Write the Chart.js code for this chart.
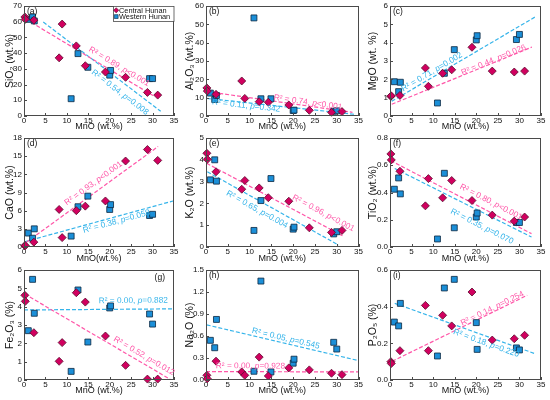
<!DOCTYPE html>
<html>
<head>
<meta charset="utf-8">
<script src="https://cdn.jsdelivr.net/npm/chart.js@4.4.1/dist/chart.umd.min.js"></script>
<style>
html, body { margin: 0; padding: 0; background: #fff; }
#grid { position: relative; width: 550px; height: 400px; overflow: hidden; }
.cell { position: absolute; }
</style>
</head>
<body>
<div id="grid"></div>
<script>
// MnO content (wt.%) of each sample, shared by all nine panels
const mnoCentral = [0.2, 0.3, 2.3, 8.2, 8.9, 12.2, 14.3, 19.0, 23.7, 28.8, 31.2];
const mnoWestern = [1.0, 2.0, 2.4, 11.0, 12.6, 14.9, 20.0, 20.2, 29.3, 30.0];

const sio2Central = [63.0, 61.5, 61.0, 37.0, 58.5, 44.6, 32.0, 28.0, 24.6, 15.0, 13.3];
const sio2Western = [61.5, 63.0, 60.5, 11.0, 39.7, 31.0, 26.0, 29.0, 23.8, 23.8];
const sio2FitCentral = [[0.5, 61.5], [30.3, 12.7]];
const sio2FitWestern = [[4.5, 59.8], [31.9, 3.0]];

const al2o3Central = [15.3, 13.6, 11.8, 19.1, 9.6, 7.8, 7.5, 6.0, 3.1, 2.0, 2.4];
const al2o3Western = [12.5, 9.0, 11.2, 53.5, 9.4, 9.4, 3.0, 3.2, 2.6, 2.8];
const al2o3FitCentral = [[0.3, 13.3], [33.6, 2.0]];
const al2o3FitWestern = [[0.2, 9.6], [34.2, 0.9]];

const mgoCentral = [1.07, 1.1, 1.12, 2.62, 1.62, 2.33, 2.52, 3.75, 2.45, 2.4, 2.45];
const mgoWestern = [1.87, 1.33, 1.84, 0.71, 2.33, 3.62, 4.15, 4.38, 4.17, 4.45];
const mgoFitCentral = [[0.4, 0.64], [32.9, 3.76]];
const mgoFitWestern = [[0.4, 0.8], [33.9, 5.44]];

const caoCentral = [0.2, 0.25, 0.8, 6.2, 1.55, 6.0, 6.75, 7.6, 14.2, 16.1, 14.3];
const caoWestern = [2.3, 1.45, 3.0, 1.8, 6.65, 8.4, 6.2, 7.0, 5.2, 5.4];
const caoFitCentral = [[0.6, 0.8], [31.3, 16.6]];
const caoFitWestern = [[0.3, 0.9], [34.8, 7.6]];

const k2oCentral = [4.3, 4.02, 3.45, 2.65, 3.05, 2.71, 2.26, 2.1, 0.88, 0.67, 0.76];
const k2oWestern = [3.08, 4.0, 3.02, 0.76, 2.13, 3.14, 0.82, 0.91, 0.6, 0.7];
const k2oFitCentral = [[0.15, 3.84], [31.3, 0.52]];
const k2oFitWestern = [[0.3, 3.45], [30.4, 0.09]];

const tio2Central = [0.683, 0.639, 0.556, 0.302, 0.502, 0.361, 0.488, 0.341, 0.234, 0.19, 0.22];
const tio2Western = [0.424, 0.507, 0.39, 0.059, 0.541, 0.141, 0.22, 0.249, 0.18, 0.18];
const tio2FitCentral = [[0.15, 0.634], [32.8, 0.098]];
const tio2FitWestern = [[1.1, 0.576], [32.8, 0.073]];

const fe2o3Central = [4.62, 4.29, 2.58, 1.02, 2.04, 4.76, 4.25, 2.4, 0.8, 0.05, 0.05];
const fe2o3Western = [2.69, 5.49, 3.64, 0.47, 4.91, 2.07, 3.93, 4.04, 3.6, 3.05];
const fe2o3FitCentral = [[0.15, 4.69], [34.1, 0.04]];
const fe2o3FitWestern = [[0, 3.82], [35, 3.88]];

const na2oCentral = [0.064, 0.018, 0.257, 0.11, 0.064, 0.312, 0.055, 0.165, 0.138, 0.092, 0.073];
const na2oWestern = [0.541, 0.44, 0.826, 0.119, 1.349, 0.11, 0.229, 0.284, 0.514, 0.422];
const na2oFitCentral = [[0, 0.115], [35, 0.11]];
const na2oFitWestern = [[0.15, 0.752], [34.9, 0.266]];

const p2o5Central = [0.1, 0.09, 0.16, 0.407, 0.16, 0.353, 0.295, 0.48, 0.218, 0.225, 0.244];
const p2o5Western = [0.316, 0.295, 0.418, 0.131, 0.502, 0.549, 0.313, 0.167, 0.175, 0.164];
const p2o5FitCentral = [[0.5, 0.102], [31.8, 0.462]];
const p2o5FitWestern = [[1.1, 0.418], [33.8, 0.142]];

const colors = {
    central: '#d1005f',
    centralEdge: '#5c0a2e',
    western: '#1b8fd8',
    westernEdge: '#0b2740',
    centralFit: '#ff56a8',
    westernFit: '#35b4ea',
    frame: '#4a4a4a',
    text: '#111'
};

const FONT = "'Liberation Sans', Arial, sans-serif";

// grid geometry: each cell is one chart
const columns = [
    { left: 0, width: 182, axisW: 24, padR: 8, titlePad: 4.5 },
    { left: 182, width: 182, axisW: 24, padR: 5, titlePad: 2.5 },
    { left: 364, width: 186, axisW: 26, padR: 9, titlePad: 3.5 }
];
const rows = [
    { top: 0, height: 132, padT: 6, axisH: 16 },
    { top: 132, height: 132, padT: 6, axisH: 17 },
    { top: 264, height: 132, padT: 6, axisH: 16 }
];

const panels = [
    { tag: '(a)', yTitle: 'SiO₂ (wt.%)', yMax: 70, yStep: 10, digits: 0,
      c: sio2Central, w: sio2Western, fitC: sio2FitCentral, fitW: sio2FitWestern,
      statC: ['0.89', '<0.001'], statW: ['0.54', '=0.008'], labC: [22.2, 31.4], labW: [22.4, 15.0], legend: true },
    { tag: '(b)', yTitle: 'Al₂O₃ (wt.%)', yMax: 60, yStep: 10, digits: 0,
      c: al2o3Central, w: al2o3Western, fitC: al2o3FitCentral, fitW: al2o3FitWestern,
      statC: ['0.74', '<0.001'], statW: ['0.11', '=0.342'], labC: [23.4, 7.4], labW: [9.2, 5.6] },
    { tag: '(c)', yTitle: 'MgO (wt. %)', yMax: 6, yStep: 1, digits: 0,
      c: mgoCentral, w: mgoWestern, fitC: mgoFitCentral, fitW: mgoFitWestern,
      statC: ['0.44', '=0.026'], statW: ['0.71', '=0.002'], labC: [24.0, 3.05], labW: [9.7, 2.4] },
    { tag: '(d)', yTitle: 'CaO (wt.%)', xTitle: 'MnO(wt.%)', yMax: 18, yStep: 3, digits: 0,
      c: caoCentral, w: caoWestern, fitC: caoFitCentral, fitW: caoFitWestern,
      statC: ['0.93', '<0.001'], statW: ['0.38', '=0.058'], labC: [16.2, 10.5], labW: [21.6, 4.2] },
    { tag: '(e)', yTitle: 'K₂O (wt.%)', yMax: 5, yStep: 1, digits: 0,
      c: k2oCentral, w: k2oWestern, fitC: k2oFitCentral, fitW: k2oFitWestern,
      statC: ['0.96', '<0.001'], statW: ['0.65', '=0.004'], labC: [26.9, 1.55], labW: [11.7, 1.72] },
    { tag: '(f)', yTitle: 'TiO₂ (wt.%)', yMax: 0.8, yStep: 0.2, digits: 1,
      c: tio2Central, w: tio2Western, fitC: tio2FitCentral, fitW: tio2FitWestern,
      statC: ['0.80', '<0.001'], statW: ['0.35', '=0.070'], labC: [23.4, 0.33], labW: [21.3, 0.15] },
    { tag: '(g)', tagRight: true, yTitle: 'Fe₂O₃ (%)', yMax: 6, yStep: 1, digits: 0,
      c: fe2o3Central, w: fe2o3Western, fitC: fe2o3FitCentral, fitW: fe2o3FitWestern,
      statC: ['0.52', '=0.012'], statW: ['0.00', '=0.882'], labC: [28.0, 1.31], labW: [25.5, 4.33] },
    { tag: '(h)', yTitle: 'Na₂O (%)', yMax: 1.5, yStep: 0.3, digits: 1,
      c: na2oCentral, w: na2oWestern, fitC: na2oFitCentral, fitW: na2oFitWestern,
      statC: ['0.00', '=0.928'], statW: ['0.05', '=0.545'], labC: [10.2, 0.19], labW: [18.3, 0.565] },
    { tag: '(i)', yTitle: 'P₂O₅ (%)', yMax: 0.6, yStep: 0.2, digits: 1,
      c: p2o5Central, w: p2o5Western, fitC: p2o5FitCentral, fitW: p2o5FitWestern,
      statC: ['0.14', '=0.254'], statW: ['0.18', '=0.220'], labC: [23.7, 0.39], labW: [22.3, 0.2] }
];

function drawStat(chart, fit, at, stat, color) {
    const { ctx, scales: { x, y } } = chart;
    const x0 = x.getPixelForValue(fit[0][0]), y0 = y.getPixelForValue(fit[0][1]);
    const x1 = x.getPixelForValue(fit[1][0]), y1 = y.getPixelForValue(fit[1][1]);
    const angle = Math.atan2(y1 - y0, x1 - x0);
    const parts = [['R² = ' + stat[0] + ', ', ''], ['p', 'italic '], [stat[1], '']];
    ctx.save();
    ctx.translate(x.getPixelForValue(at[0]), y.getPixelForValue(at[1]));
    ctx.rotate(angle);
    ctx.fillStyle = color;
    ctx.textBaseline = 'middle';
    ctx.textAlign = 'left';
    const widths = parts.map(p => {
        ctx.font = p[1] + '8.3px ' + FONT;
        return ctx.measureText(p[0]).width;
    });
    let cx = -widths.reduce((s, v) => s + v, 0) / 2;
    parts.forEach((p, i) => {
        ctx.font = p[1] + '8.3px ' + FONT;
        ctx.fillText(p[0], cx, 0);
        cx += widths[i];
    });
    ctx.restore();
}

function drawLegend(chart) {
    const { ctx, chartArea: a } = chart;
    const w = 61, h = 15, left = a.right - w, top = a.top;
    ctx.save();
    ctx.fillStyle = '#fff';
    ctx.fillRect(left, top, w, h);
    ctx.strokeStyle = colors.frame;
    ctx.lineWidth = 0.8;
    ctx.strokeRect(left + 0.5, top + 0.5, w - 0.5, h);
    chart.data.datasets.slice(0, 2).forEach((ds, i) => {
        const cy = top + 4.3 + i * 6.3;
        ctx.fillStyle = ds.backgroundColor;
        ctx.strokeStyle = ds.borderColor;
        ctx.lineWidth = 0.6;
        Chart.helpers.drawPoint(ctx, { pointStyle: ds.pointStyle, radius: ds.pointRadius * 0.65, borderWidth: 0.6, rotation: 0 }, left + 3.2, cy);
        ctx.fillStyle = colors.text;
        ctx.font = '7.4px ' + FONT;
        ctx.textBaseline = 'middle';
        ctx.fillText(ds.label, left + 6, cy + 0.3);
    });
    ctx.restore();
}

const decor = {
    id: 'decor',
    afterDraw(chart, args, o) {
        const { ctx, chartArea: a, scales: { x, y } } = chart;
        ctx.save();
        ctx.strokeStyle = colors.frame;
        ctx.lineWidth = 1;
        ctx.strokeRect(Math.round(a.left) + 0.5, Math.round(a.top) + 0.5, Math.round(a.width) - 1, Math.round(a.height) - 1);
        // inward tick marks
        ctx.beginPath();
        x.ticks.forEach(t => {
            const px = Math.round(x.getPixelForValue(t.value)) + 0.5;
            ctx.moveTo(px, a.bottom);
            ctx.lineTo(px, a.bottom - 3);
        });
        y.ticks.forEach(t => {
            const py = Math.round(y.getPixelForValue(t.value)) + 0.5;
            ctx.moveTo(a.left, py);
            ctx.lineTo(a.left + 3, py);
        });
        ctx.stroke();
        ctx.fillStyle = colors.text;
        ctx.font = '8.5px ' + FONT;
        ctx.textBaseline = 'top';
        if (o.tagRight) {
            ctx.textAlign = 'right';
            ctx.fillText(o.tag, a.right - 9, a.top + 3);
        } else {
            ctx.textAlign = 'left';
            ctx.fillText(o.tag, a.left + 3, a.top + 1);
        }
        ctx.restore();
        drawStat(chart, o.fitC, o.labC, o.statC, colors.centralFit);
        drawStat(chart, o.fitW, o.labW, o.statW, colors.westernFit);
        if (o.legend) drawLegend(chart);
    }
};

const grid = document.getElementById('grid');
const toPoints = (xs, ys) => xs.map((v, k) => ({ x: v, y: ys[k] }));
const toLine = pairs => pairs.map(([px, py]) => ({ x: px, y: py }));

panels.forEach((p, i) => {
    const col = columns[i % 3];
    const row = rows[Math.floor(i / 3)];
    const cell = document.createElement('div');
    cell.className = 'cell';
    cell.style.left = col.left + 'px';
    cell.style.top = row.top + 'px';
    cell.style.width = col.width + 'px';
    cell.style.height = row.height + 'px';
    const canvas = document.createElement('canvas');
    cell.appendChild(canvas);
    grid.appendChild(cell);

    new Chart(canvas, {
        type: 'scatter',
        data: {
            datasets: [
                {
                    label: 'Central Hunan',
                    data: toPoints(mnoCentral, p.c),
                    pointStyle: 'rectRot',
                    pointRadius: 4,
                    backgroundColor: colors.central,
                    borderColor: colors.centralEdge,
                    borderWidth: 0.8,
                    clip: false
                },
                {
                    label: 'Western Hunan',
                    data: toPoints(mnoWestern, p.w),
                    pointStyle: 'rect',
                    pointRadius: 4.2,
                    backgroundColor: colors.western,
                    borderColor: colors.westernEdge,
                    borderWidth: 0.8,
                    clip: false
                },
                {
                    type: 'line',
                    label: 'Central fit',
                    data: toLine(p.fitC),
                    borderColor: colors.centralFit,
                    borderDash: [4, 2],
                    borderWidth: 1.2,
                    pointRadius: 0,
                    fill: false
                },
                {
                    type: 'line',
                    label: 'Western fit',
                    data: toLine(p.fitW),
                    borderColor: colors.westernFit,
                    borderDash: [4, 2],
                    borderWidth: 1.2,
                    pointRadius: 0,
                    fill: false
                }
            ]
        },
        options: {
            responsive: true,
            maintainAspectRatio: false,
            animation: false,
            events: [],
            layout: { padding: { top: row.padT, right: col.padR, left: 0, bottom: 0 } },
            plugins: {
                legend: { display: false },
                tooltip: { enabled: false },
                decor: p
            },
            scales: {
                x: {
                    type: 'linear',
                    min: 0,
                    max: 35,
                    afterFit(s) { s.height = row.axisH; },
                    grid: { display: false, drawTicks: false },
                    border: { display: false },
                    ticks: { stepSize: 5, padding: 1, maxRotation: 0, color: colors.text, font: { family: FONT, size: 8, lineHeight: 1 } },
                    title: { display: true, text: p.xTitle || 'MnO (wt.%)', color: colors.text, padding: { top: 0, bottom: 1 }, font: { family: FONT, size: 9, lineHeight: 1 } }
                },
                y: {
                    type: 'linear',
                    min: 0,
                    max: p.yMax,
                    afterFit(s) { s.width = col.axisW; },
                    grid: { display: false, drawTicks: false },
                    border: { display: false },
                    ticks: { stepSize: p.yStep, padding: 2, color: colors.text, font: { family: FONT, size: 8, lineHeight: 1 },
                             callback: v => Number(v).toFixed(p.digits) },
                    title: { display: true, text: p.yTitle, color: colors.text, padding: { top: col.titlePad, bottom: 0 }, font: { family: FONT, size: 10.5, lineHeight: 1 } }
                }
            }
        },
        plugins: [decor]
    });
});
</script>
</body>
</html>
